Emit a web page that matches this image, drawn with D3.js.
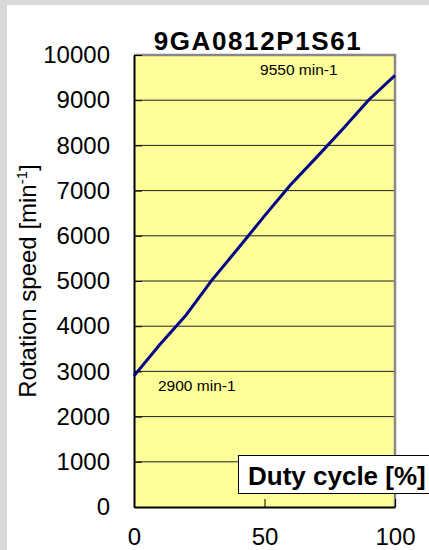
<!DOCTYPE html>
<html>
<head>
<meta charset="utf-8">
<script src="https://cdn.jsdelivr.net/npm/d3@7"></script>
<style>
  body { margin: 0; background: #d9d9d9; }
  svg { display: block; font-family: "Liberation Sans", Arial, sans-serif; }
</style>
</head>
<body>
<div id="chart"></div>
<script>
// values
var duty = [0, 10, 20, 30, 40, 50, 60, 70, 80, 90, 100];
var speed = [2900, 3600, 4250, 5030, 5730, 6440, 7130, 7740, 8365, 9010, 9550];
var yTicks = [0, 1000, 2000, 3000, 4000, 5000, 6000, 7000, 8000, 9000, 10000];
var xTicks = [0, 50, 100];
var title = "9GA0812P1S61";
var notes = [{ d: 48.3, v: 9550, text: "9550 min-1" }, { d: 9.2, v: 2900, text: "2900 min-1" }];

var W = 429, H = 550;
var margin = { top: 55, right: 34, bottom: 43, left: 134 };

var svg = d3.select("#chart").append("svg")
    .attr("width", W)
    .attr("height", H);

// white panel over the gray page
svg.append("rect")
    .attr("x", 7).attr("y", 5)
    .attr("width", W - 7).attr("height", H - 5)
    .attr("fill", "#ffffff");

var x = d3.scaleLinear().domain([0, 100]).range([margin.left, W - margin.right]);
var y = d3.scaleLinear().domain([0, 10000]).range([H - margin.bottom, margin.top]);

// plot background
svg.append("rect")
    .attr("x", x(0)).attr("y", y(10000))
    .attr("width", x(100) - x(0)).attr("height", y(0) - y(10000))
    .attr("fill", "#ffff99");

// gridlines
svg.append("g")
    .selectAll("line")
    .data(yTicks.filter(function (d) { return d > 0 && d < 10000; }))
    .enter()
    .append("line")
    .attr("x1", x(0)).attr("x2", x(100))
    .attr("y1", function (d) { return y(d); })
    .attr("y2", function (d) { return y(d); })
    .attr("stroke", "#222")
    .attr("stroke-width", 1);

// gray frame on top and right
svg.append("path")
    .attr("d", "M" + x(0) + "," + y(10000) + "H" + x(100) + "V" + y(0))
    .attr("fill", "none")
    .attr("stroke", "#888")
    .attr("stroke-width", 2.5);

// axes
var yAxis = svg.append("g")
    .attr("transform", "translate(" + x(0) + ",0)")
    .call(d3.axisLeft(y).tickValues(yTicks).tickFormat(d3.format("d"))
        .tickSizeInner(-8).tickSizeOuter(0).tickPadding(24));
var xAxis = svg.append("g")
    .attr("transform", "translate(0," + y(0) + ")")
    .call(d3.axisBottom(x).tickValues(xTicks).tickFormat(d3.format("d"))
        .tickSizeInner(-8).tickSizeOuter(0).tickPadding(21));

[yAxis, xAxis].forEach(function (g) {
    g.selectAll("text")
        .attr("font-size", "24px")
        .attr("font-family", "'Liberation Sans', Arial, sans-serif")
        .attr("fill", "#000");
    g.selectAll("line").attr("stroke", "#000").attr("stroke-width", 1);
    g.select(".domain").attr("stroke", "#000").attr("stroke-width", 2);
});

// the curve
var line = d3.line()
    .x(function (d, i) { return x(duty[i]); })
    .y(function (d) { return y(d); });
svg.append("path")
    .datum(speed)
    .attr("d", line)
    .attr("fill", "none")
    .attr("stroke", "#000088")
    .attr("stroke-width", 3)
    .attr("stroke-linejoin", "round");

// value notes
svg.selectAll(".note")
    .data(notes)
    .enter()
    .append("text")
    .attr("class", "note")
    .attr("x", function (d) { return x(d.d); })
    .attr("y", function (d, i) { return y(d.v) + (i == 0 ? 0 : 15); })
    .attr("font-size", "15.5px")
    .text(function (d) { return d.text; });

// title
svg.append("text")
    .attr("x", 258)
    .attr("y", 50)
    .attr("text-anchor", "middle")
    .attr("font-size", "26px")
    .attr("font-weight", "bold")
    .attr("letter-spacing", "1.6px")
    .text(title);

// y title
var yt = svg.append("text")
    .attr("transform", "translate(36," + ((y(0) + y(10000)) / 2) + ") rotate(-90)")
    .attr("text-anchor", "middle")
    .attr("font-size", "24px");
yt.append("tspan").text("Rotation speed [min");
yt.append("tspan").attr("font-size", "15px").attr("dy", -9).text("-1");
yt.append("tspan").attr("dy", 9).text("]");

// x title box
svg.append("rect")
    .attr("x", 238.5).attr("y", 455.5)
    .attr("width", 200).attr("height", 38)
    .attr("fill", "#fff")
    .attr("stroke", "#000")
    .attr("stroke-width", 1);
svg.append("text")
    .attr("x", 248)
    .attr("y", 485)
    .attr("font-size", "26px")
    .attr("font-weight", "bold")
    .text("Duty cycle [%]");
</script>
</body>
</html>
